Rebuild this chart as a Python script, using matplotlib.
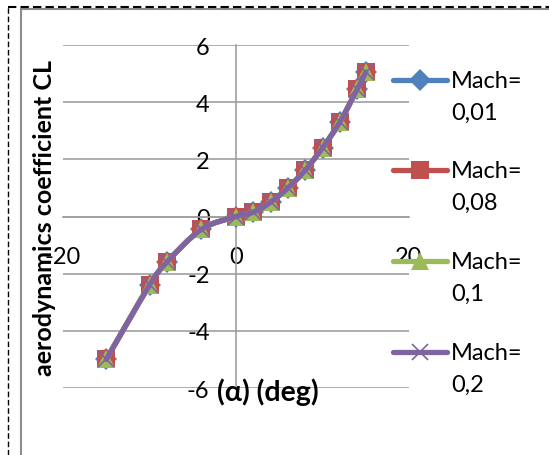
import numpy as np
import matplotlib
matplotlib.use("Agg")
import matplotlib.pyplot as plt
from matplotlib.path import Path
from matplotlib.patches import PathPatch
from matplotlib.lines import Line2D

plt.rcParams['font.family'] = ['Lato', 'DejaVu Sans']
plt.rcParams['axes.unicode_minus'] = False

# ---- data ----
alpha = [-15, -10, -8, -4, 0, 2, 4, 6, 8, 10, 12, 14, 15]
cl_m001 = [-5.0, -2.4, -1.6, -0.45, 0.0, 0.15, 0.5, 1.0, 1.62, 2.4, 3.3, 4.45, 5.05]
cl_m008 = [-5.0, -2.4, -1.6, -0.45, 0.0, 0.15, 0.5, 1.0, 1.62, 2.4, 3.3, 4.45, 5.05]
cl_m01 = [-5.0, -2.4, -1.6, -0.45, 0.0, 0.15, 0.5, 1.0, 1.62, 2.4, 3.3, 4.45, 5.05]
cl_m02 = [-5.0, -2.4, -1.6, -0.45, 0.0, 0.15, 0.5, 1.0, 1.62, 2.4, 3.3, 4.45, 5.05]
series_labels = ["Mach=\n0,01", "Mach=\n0,08", "Mach=\n0,1", "Mach=\n0,2"]
x_ticks = [-20, 0, 20]
y_ticks = [-6, -4, -2, 0, 2, 4, 6]
x_title = "(α) (deg)"
y_title = "aerodynamics coefficient CL"

colors = ['#4F81BD', '#C0504D', '#9BBB59', '#8064A2']
markers = ['D', 's', '^', 'x']
msizes = [11, 12.5, 13, 12]

W, H = 549, 456
fig = plt.figure(figsize=(W / 100, H / 100), dpi=100)
fig.patch.set_facecolor('white')
ax = fig.add_axes([63 / W, 1 - 389 / H, (409 - 63) / W, (389 - 46) / H])


def smooth_path(xs, ys):
    pts = np.column_stack([xs, ys]).astype(float)
    n = len(pts)
    verts = [pts[0]]
    codes = [Path.MOVETO]
    for i in range(n - 1):
        p_prev = pts[i - 1] if i > 0 else pts[i]
        p_next2 = pts[i + 2] if i + 2 < n else pts[i + 1]
        c1 = pts[i] + (pts[i + 1] - p_prev) / 6.0
        c2 = pts[i + 1] - (p_next2 - pts[i]) / 6.0
        verts += [c1, c2, pts[i + 1]]
        codes += [Path.CURVE4] * 3
    return Path(verts, codes)


all_series = [cl_m001, cl_m008, cl_m01, cl_m02]
for k, ys in enumerate(all_series):
    patch = PathPatch(smooth_path(alpha, ys), facecolor='none', edgecolor=colors[k],
                      lw=3.8, capstyle='round', joinstyle='round', zorder=3 + k * 2)
    ax.add_patch(patch)
    if markers[k] == 'x':
        ax.plot(alpha, ys, linestyle='none', marker='x', ms=msizes[k], mew=1.2,
                color=colors[k], zorder=4 + k * 2)
    else:
        ax.plot(alpha, ys, linestyle='none', marker=markers[k], ms=msizes[k], mew=0,
                color=colors[k], zorder=4 + k * 2)

ax.set_xlim(-20, 20)
ax.set_ylim(-6, 6)
ax.set_xticks(x_ticks)
ax.set_yticks(y_ticks)
ax.grid(axis='y', color='#a0a0a0', lw=1.2)
ax.set_axisbelow(True)
for s in ['top', 'right']:
    ax.spines[s].set_visible(False)
ax.spines['left'].set_position(('data', 0))
ax.spines['bottom'].set_position(('data', 0))
for s in ['left', 'bottom']:
    ax.spines[s].set_color('#a0a0a0')
    ax.spines[s].set_linewidth(1.2)
ax.tick_params(axis='both', length=0, labelsize=17)
ax.tick_params(axis='y', pad=19)
ax.tick_params(axis='x', pad=21)
ax.patch.set_alpha(0)

# axis titles
fig.text(268 / W, 1 - 392 / H, x_title, ha='center', va='center', fontsize=20.5,
         fontweight='bold', zorder=10)
fig.text(45 / W, 1 - 218 / H, y_title, ha='center', va='center', rotation=90,
         fontsize=18, fontweight='bold', zorder=10)

# legend (manual, Excel style)
leg_y = [81, 171, 262, 353]
for k in range(4):
    yy = 1 - leg_y[k] / H
    ln = Line2D([393 / W, 447 / W], [yy, yy], transform=fig.transFigure, color=colors[k],
                lw=3.8, solid_capstyle='round')
    fig.add_artist(ln)
    if markers[k] == 'x':
        mk = Line2D([420 / W], [yy], transform=fig.transFigure, marker='x', ms=12, mew=1.2,
                    color=colors[k], linestyle='none')
    else:
        mk = Line2D([420 / W], [yy], transform=fig.transFigure, marker=markers[k],
                    ms=msizes[k], mew=0, color=colors[k], linestyle='none')
    fig.add_artist(mk)
    for j, line in enumerate(series_labels[k].split("\n")):
        fig.text(451 / W, 1 - (leg_y[k] + 1 + 31 * j) / H, line, ha='left', va='center',
                 fontsize=17)

# chart frame decorations
fig.add_artist(Line2D([21 / W, 21 / W], [0, 1 - 10 / H], transform=fig.transFigure,
                      color='#8c8c8c', lw=1.5))
fig.add_artist(Line2D([21 / W, 1], [1 - 10 / H, 1 - 10 / H], transform=fig.transFigure,
                      color='#8c8c8c', lw=1.5))
fig.add_artist(Line2D([8 / W, 8 / W], [0, 1 - 8 / H], transform=fig.transFigure,
                      color='black', lw=1.0, ls=(0, (4, 2))))
fig.add_artist(Line2D([8 / W, 1], [1 - 8 / H, 1 - 8 / H], transform=fig.transFigure,
                      color='black', lw=1.5, ls=(0, (4, 2))))

fig.savefig('out.png', dpi=100)
